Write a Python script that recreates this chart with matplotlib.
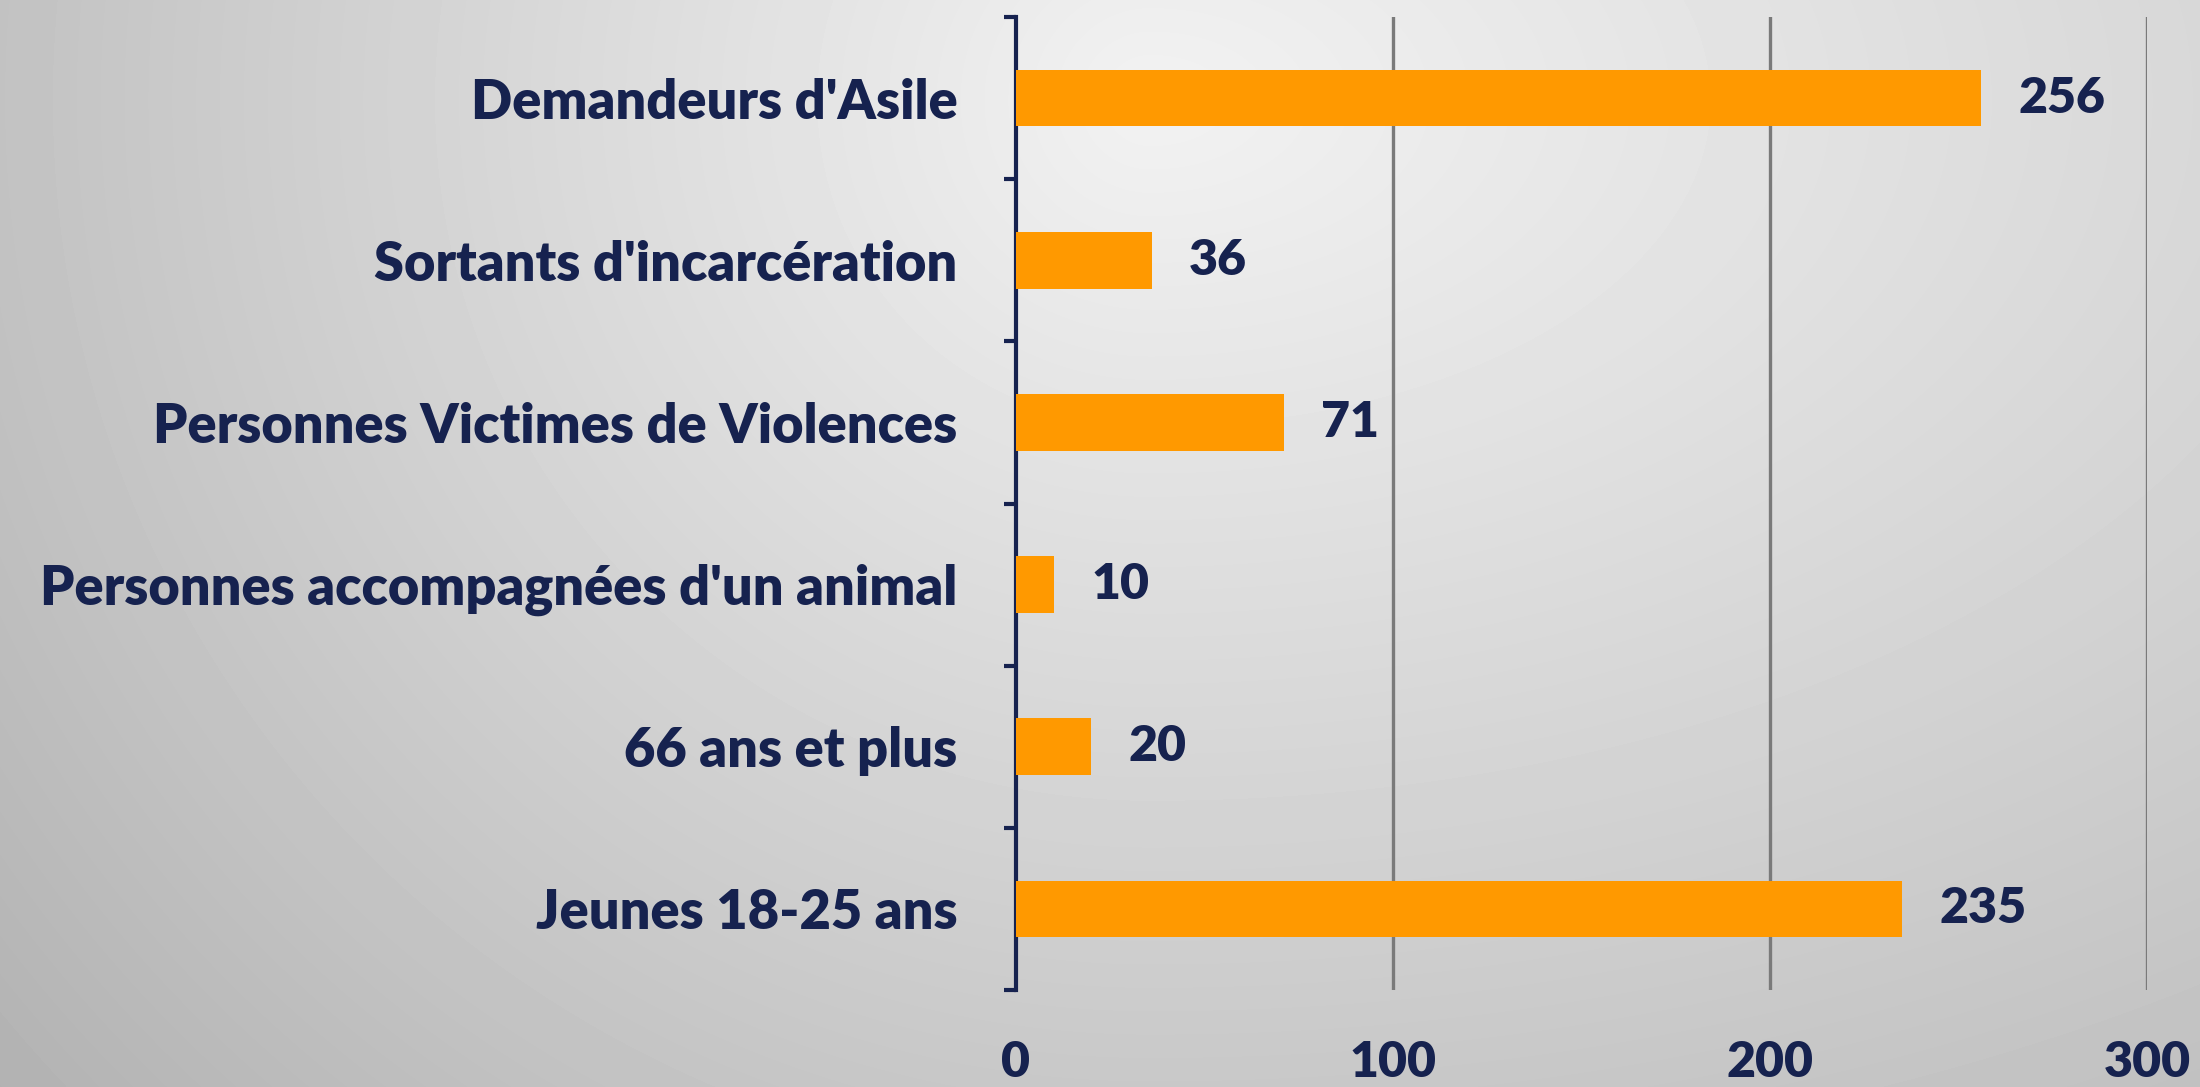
import numpy as np
import matplotlib
matplotlib.use("Agg")
import matplotlib.pyplot as plt
from matplotlib.ticker import FixedLocator

# data (top to bottom as in the chart)
categories = [
    "Demandeurs d'Asile",
    "Sortants d'incarcération",
    "Personnes Victimes de Violences",
    "Personnes accompagnées d'un animal",
    "66 ans et plus",
    "Jeunes 18-25 ans",
]
values = [256, 36, 71, 10, 20, 235]
x_ticks = [0, 100, 200, 300]

navy = "#16224F"
orange = "#FF9900"
font = ["Lato", "DejaVu Sans"]

W, H = 2200, 1087
fig = plt.figure(figsize=(W / 100, H / 100), dpi=100)

# background gradient (light near top centre, darker towards edges)
yy, xx = np.mgrid[0:H, 0:W]
dx = xx - 1150.0
dy = yy - 100.0
ax_scale = np.where(dx < 0, 0.0417, 0.0248)
drop = np.sqrt((dx * ax_scale) ** 2 + (dy * 0.0426) ** 2)
grey = np.clip(242 - drop, 0, 255) / 255.0
bg = fig.add_axes([0, 0, 1, 1], zorder=0)
bg.imshow(grey, cmap="gray", vmin=0, vmax=1, aspect="auto")
bg.axis("off")

left = 1016 / W
right = 2147 / W
bottom = 1 - 990 / H
top = 1 - 17 / H
ax = fig.add_axes([left, bottom, right - left, top - bottom], zorder=1)
ax.set_facecolor("none")

pos = np.arange(len(categories))[::-1]
ax.barh(pos, values, height=0.35, color=orange, zorder=3)

for p, v in zip(pos, values):
    ax.annotate(str(v), (v, p), xytext=(27, 0), textcoords="offset points",
                ha="left", va="center", fontsize=36, fontweight="heavy",
                color=navy, family=font)

ax.set_xlim(0, 300)
ax.set_ylim(-0.5, len(categories) - 0.5)

ax.set_yticks(pos)
ax.set_yticklabels(categories)
ax.yaxis.set_minor_locator(FixedLocator(np.arange(-0.5, len(categories), 1.0)))
ax.tick_params(axis="y", which="major", length=0, pad=42)
ax.tick_params(axis="y", which="minor", length=9, width=3, color=navy, direction="out")
for lab in ax.get_yticklabels():
    lab.set_fontsize(39)
    lab.set_fontweight("heavy")
    lab.set_color(navy)
    lab.set_family(font)

ax.set_xticks(x_ticks)
ax.tick_params(axis="x", length=0, pad=36)
for lab in ax.get_xticklabels():
    lab.set_fontsize(36)
    lab.set_fontweight("heavy")
    lab.set_color(navy)
    lab.set_family(font)

for x in x_ticks[1:]:
    ax.axvline(x, color="#7A7A7A", linewidth=2.4, zorder=1)

for s in ["top", "right", "bottom"]:
    ax.spines[s].set_visible(False)
ax.spines["left"].set_color(navy)
ax.spines["left"].set_linewidth(3)

fig.savefig("out.png", dpi=100)
